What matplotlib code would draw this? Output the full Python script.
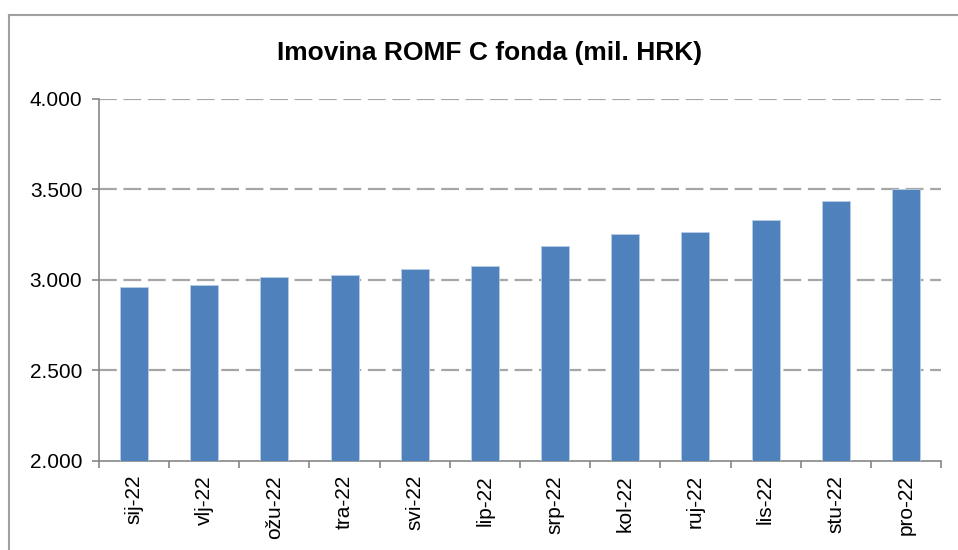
import matplotlib.pyplot as plt
from matplotlib.lines import Line2D
import numpy as np

months = ["sij-22", "vlj-22", "ožu-22", "tra-22", "svi-22", "lip-22",
          "srp-22", "kol-22", "ruj-22", "lis-22", "stu-22", "pro-22"]
assets = [2961, 2972, 3019, 3030, 3061, 3077, 3188, 3253, 3266, 3329, 3434, 3502]
yticks = [2000, 2500, 3000, 3500, 4000]

plt.rcParams['font.family'] = ['Liberation Sans', 'DejaVu Sans']

fig = plt.figure(figsize=(9.58, 5.5), dpi=100)
ax = fig.add_axes([99/958, 89/550, 842/958, 362/550])

x = np.arange(len(months))
ax.bar(x, assets, width=0.4, color='#4F81BD', edgecolor='#B9CDE5', linewidth=0.6, zorder=3)

ax.set_xlim(-0.5, len(months) - 0.5)
ax.set_ylim(2000, 4000)
ax.set_yticks(yticks)
ax.set_yticklabels([f"{v:,}".replace(",", ".") for v in yticks], fontsize=15)
for v in yticks[1:]:
    ax.axhline(v, color='#A6A6A6', lw=1.6, ls=(0, (8, 3)), zorder=1)

ax.set_xticks(x)
ax.set_xticklabels(months, rotation=90, fontsize=15)
ax.set_xticks(np.arange(-0.5, len(months)), minor=True)
ax.tick_params(axis='x', which='major', length=0, pad=10)
ax.tick_params(axis='x', which='minor', length=5, color='#868686', width=1.2)
ax.tick_params(axis='y', length=5, color='#868686', width=1.2, pad=7)

for s in ['top', 'right']:
    ax.spines[s].set_visible(False)
for s in ['left', 'bottom']:
    ax.spines[s].set_color('#868686')
    ax.spines[s].set_linewidth(1.2)

fig.text(490/958, 1 - 53/550, "Imovina ROMF C fonda (mil. HRK)", fontsize=19,
         fontweight='bold', ha='center', va='center')

# outer chart frame (cut off at right and bottom)
fig.add_artist(Line2D([9/958, 9/958], [0, 1 - 15/550], color='#A0A0A0', lw=1.5))
fig.add_artist(Line2D([9/958, 1], [1 - 15/550, 1 - 15/550], color='#A0A0A0', lw=1.5))

fig.savefig('out.png', dpi=100)
